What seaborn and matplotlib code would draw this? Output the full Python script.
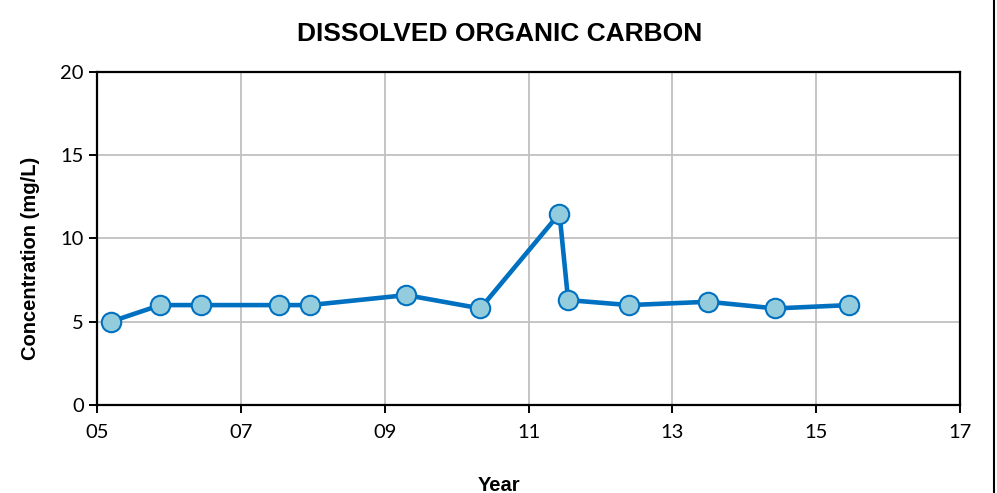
import matplotlib
matplotlib.use("Agg")
import matplotlib.pyplot as plt
import pandas as pd
import seaborn as sns

# decimal year (05 = 2005) and DOC concentration
years = [5.19, 5.88, 6.45, 7.53, 7.96, 9.30, 10.33, 11.43, 11.55, 12.40, 13.50, 14.43, 15.46]
doc_mg_l = [5.0, 6.0, 6.0, 6.0, 6.0, 6.6, 5.8, 11.5, 6.3, 6.0, 6.2, 5.8, 6.0]
x_ticks = [5, 7, 9, 11, 13, 15, 17]
x_tick_labels = ["05", "07", "09", "11", "13", "15", "17"]
y_ticks = [0, 5, 10, 15, 20]

sns.set_theme(style="white")
plt.rcParams["font.family"] = ["Lato", "DejaVu Sans"]
plt.rcParams["text.color"] = "black"
plt.rcParams["axes.labelcolor"] = "black"

df = pd.DataFrame({"year": years, "doc": doc_mg_l})

fig = plt.figure(figsize=(9.97, 4.93), dpi=100)
ax = fig.add_axes([0.0973, 0.1785, 0.8657, 0.6755])

sns.lineplot(
    data=df, x="year", y="doc", ax=ax,
    color="#0070C0", linewidth=3.3,
    marker="o", markersize=14, markerfacecolor="#93CDDD",
    markeredgecolor="#0070C0", markeredgewidth=1.5, zorder=3,
)

ax.set_xlim(5, 17)
ax.set_ylim(0, 20)
ax.set_xticks(x_ticks)
ax.set_xticklabels(x_tick_labels)
ax.set_yticks(y_ticks)
ax.grid(True, color="#C0C0C0", linewidth=1.3)
ax.set_axisbelow(True)
for s in ax.spines.values():
    s.set_color("black")
    s.set_linewidth(1.6)
ax.tick_params(axis="both", direction="out", length=6, width=1.4,
               color="black", labelsize=14.5, labelcolor="black",
               bottom=True, left=True)
ax.tick_params(axis="x", pad=8)

# title and axis labels sit centred on the figure, not the axes
ax.set_title("DISSOLVED ORGANIC CARBON", fontsize=19, fontweight="bold",
             family="Liberation Sans", color="black", pad=22, x=0.466)
ax.set_xlabel("Year", fontsize=14.5, fontweight="bold", family="Liberation Sans")
ax.set_ylabel("Concentration (mg/L)", fontsize=14.5, fontweight="bold",
              family="Liberation Sans")
ax.xaxis.set_label_coords(0.4658, -0.213)
ax.yaxis.set_label_coords(-0.066, 0.441)

# right-edge frame line of the original image
fig.add_artist(plt.Line2D([0.9965, 0.9965], [0, 1], color="black", linewidth=1.5,
                          transform=fig.transFigure))

fig.savefig("out.png", dpi=100)
